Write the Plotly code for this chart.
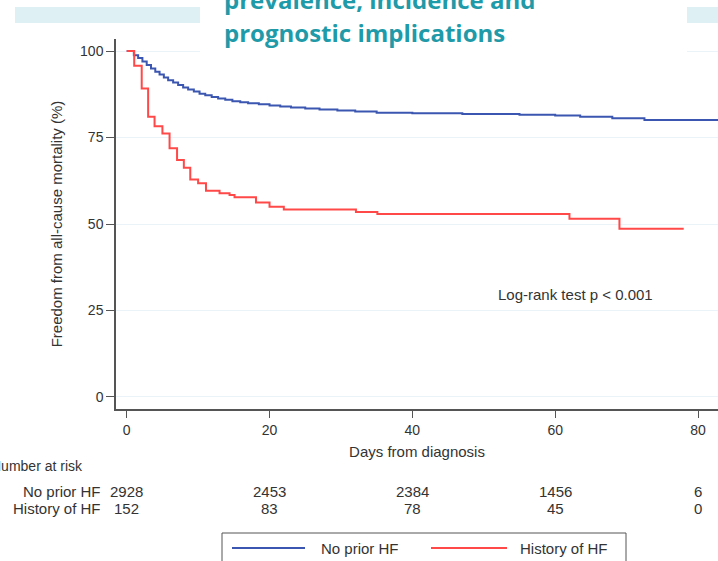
import plotly.graph_objects as go

# Kaplan-Meier step estimates (days from diagnosis, % alive)
days_no_prior = [0, 1.0, 1.6, 2.2, 2.8, 3.4, 4.0, 4.6, 5.2, 5.8, 6.5, 7.2, 7.9, 8.6,
                 9.4, 10.2, 11.0, 11.9, 12.8, 13.8, 14.8, 15.9, 17.0, 18.5, 20.0,
                 21.5, 23.0, 25.0, 27.0, 29.5, 32.0, 35.0, 40.0, 47.0, 55.0, 60.0,
                 63.5, 68.0, 72.5, 83.0]
surv_no_prior = [100, 98.8, 98.0, 97.0, 96.0, 95.0, 94.0, 93.2, 92.4, 91.6, 90.9, 90.2,
                 89.5, 88.9, 88.3, 87.7, 87.2, 86.7, 86.3, 85.9, 85.5, 85.2, 84.9,
                 84.6, 84.3, 84.0, 83.7, 83.4, 83.1, 82.8, 82.5, 82.2, 82.0, 81.8,
                 81.6, 81.4, 81.0, 80.6, 80.1, 80.1]

days_hf = [0, 1.05, 2.1, 3.0, 3.9, 5.0, 6.0, 7.05, 8.0, 8.9, 10.0, 11.1, 13.0, 14.4,
           15.1, 18.1, 20.0, 22.0, 32.1, 35.1, 62.0, 69.0, 78.0]
surv_hf = [100, 95.8, 89.2, 81.0, 78.3, 76.2, 71.9, 68.5, 66.3, 62.9, 61.8, 59.6, 58.9,
           58.4, 57.7, 56.2, 55.0, 54.2, 53.5, 52.9, 51.5, 48.6, 48.6]

# Number at risk table
risk_days = [0, 20, 40, 60, 80]
risk_no_prior = [2928, 2453, 2384, 1456, 6]
risk_hf = [152, 83, 78, 45, 0]

x_ticks = [0, 20, 40, 60, 80]
y_ticks = [0, 25, 50, 75, 100]

group_names = ["No prior HF", "History of HF"]
title_lines = ["prevalence, incidence and", "prognostic implications"]

BLUE = "#3b56b0"
RED = "#ff4848"
AXIS = "#555555"
TEXT = "#333333"
TEAL = "#1f9aa8"
FONT = "Liberation Sans"

W, H = 718, 561
L, R, T, B = 116, 0, 39, 152
PW, PH = W - L - R, H - T - B


def px(xp):
    """Pixel column -> paper x."""
    return (xp - L) / PW


def py(yp):
    """Pixel row -> paper y."""
    return (H - B - yp) / PH


fig = go.Figure()
fig.add_trace(go.Scatter(x=days_no_prior, y=surv_no_prior, mode="lines",
                         name=group_names[0], showlegend=False,
                         line=dict(color=BLUE, width=2, shape="hv")))
fig.add_trace(go.Scatter(x=days_hf, y=surv_hf, mode="lines",
                         name=group_names[1], showlegend=False,
                         line=dict(color=RED, width=2, shape="hv")))

small = dict(size=15, color=TEXT, family=FONT)

annotations = [
    dict(x=62.9, y=29.5, xref="x", yref="y", text="Log-rank test p < 0.001",
         showarrow=False, font=small),
    dict(x=px(-11), y=py(466), xref="paper", yref="paper", text="Number at risk",
         showarrow=False, xanchor="left", yanchor="middle",
         font=dict(size=14, color=TEXT, family=FONT)),
]
for name, yrow in zip(group_names, [491, 509]):
    annotations.append(dict(x=px(103), y=py(yrow), xref="paper", yref="paper",
                            text=name, showarrow=False, xanchor="right",
                            yanchor="middle", font=small))
for counts, yrow in zip([risk_no_prior, risk_hf], [491, 509]):
    for d, n in zip(risk_days, counts):
        annotations.append(dict(x=d, y=py(yrow), xref="x", yref="paper",
                                text=str(n), showarrow=False, xanchor="center",
                                yanchor="middle", font=small))
for line, ycen in zip(title_lines, [0, 33]):
    annotations.append(dict(x=px(222), y=py(ycen), xref="paper", yref="paper",
                            text="<b>" + line + "</b>", showarrow=False,
                            xanchor="left", yanchor="middle",
                            font=dict(size=24, color=TEAL, family="Open Sans")))

# legend key: text labels
for name, xl in zip(group_names, [319, 518]):
    annotations.append(dict(x=px(xl), y=py(548), xref="paper", yref="paper",
                            text=name, showarrow=False, xanchor="left",
                            yanchor="middle", font=small))

shapes = [
    # light banner strip
    dict(type="rect", xref="paper", yref="paper", x0=px(15), x1=px(718),
         y0=py(23), y1=py(7), fillcolor="#dff0f5", line=dict(width=0),
         layer="above"),
    # white title panel
    dict(type="rect", xref="paper", yref="paper", x0=px(200), x1=px(687),
         y0=py(55), y1=py(-5), fillcolor="white", line=dict(width=0),
         layer="above"),
    # legend frame
    dict(type="rect", xref="paper", yref="paper", x0=px(222), x1=px(626),
         y0=py(580), y1=py(533), fillcolor="white",
         line=dict(color=AXIS, width=1)),
]
# legend key: line samples
for color, (x0, x1) in zip([BLUE, RED], [(232, 305), (431, 507)]):
    shapes.append(dict(type="line", xref="paper", yref="paper", x0=px(x0),
                       x1=px(x1), y0=py(548), y1=py(548),
                       line=dict(color=color, width=2)))

fig.update_layout(
    width=W, height=H,
    margin=dict(l=L, r=R, t=T, b=B, pad=0, autoexpand=False),
    paper_bgcolor="white", plot_bgcolor="white",
    font=dict(family=FONT, size=14, color=TEXT),
    showlegend=False,
    xaxis=dict(range=[-1.5, 82.8], tickvals=x_ticks, ticks="outside", ticklen=7,
               tickcolor=AXIS, showline=True, linecolor=AXIS, linewidth=1.5,
               showgrid=False, zeroline=False, automargin=False,
               tickfont=dict(size=14, color=TEXT),
               title=dict(text="Days from diagnosis", standoff=10,
                          font=dict(size=15, color=TEXT))),
    yaxis=dict(range=[-3.5, 103.5], tickvals=y_ticks, ticks="outside", ticklen=8,
               tickcolor=AXIS, showline=True, linecolor=AXIS, linewidth=1.5,
               showgrid=True, gridcolor="#eaf4f8", gridwidth=1, zeroline=False,
               automargin=False, tickfont=dict(size=14, color=TEXT),
               title=dict(text="Freedom from all-cause mortality (%)", standoff=14,
                          font=dict(size=15, color=TEXT))),
    annotations=annotations,
    shapes=shapes,
)

fig.write_html("out.html")
